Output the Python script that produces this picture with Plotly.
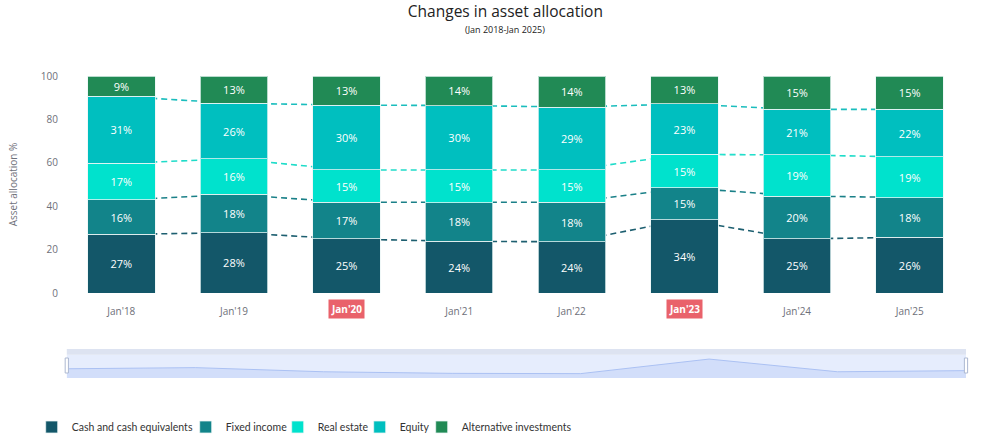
import numpy as np
import plotly.graph_objects as go

categories = ["Jan'18", "Jan'19", "Jan'20", "Jan'21", "Jan'22", "Jan'23", "Jan'24", "Jan'25"]
highlighted = ["Jan'20", "Jan'23"]

series_names = ["Cash and cash equivalents", "Fixed income", "Real estate", "Equity", "Alternative investments"]
cash = [27.0, 27.8, 24.9, 23.8, 23.6, 33.8, 24.9, 25.7]
fixed_income = [15.9, 17.6, 16.9, 17.9, 18.2, 14.7, 19.8, 18.3]
real_estate = [16.9, 16.4, 14.9, 15.0, 14.9, 15.4, 18.9, 18.7]
equity = [30.8, 25.6, 29.9, 29.7, 29.0, 23.2, 21.0, 21.9]
alternative = [9.4, 12.6, 13.4, 13.6, 14.3, 12.9, 15.4, 15.4]

series_values = [cash, fixed_income, real_estate, equity, alternative]
colors = ["#135769", "#12848a", "#00e2cd", "#00bfbf", "#218a55"]
line_colors = ["#1d5f70", "#1a8088", "#1fdcc9", "#1abdbd"]

FONT = "Open Sans, Noto Sans, sans-serif"
LEGEND_FONT = "Lato, Open Sans, sans-serif"

# legend text start positions (pixels) for each entry
legend_text_x = [72, 226, 318, 400, 462]

fig = go.Figure()

# connecting dashed lines (drawn beneath the bars, on the base axes)
cum = np.cumsum(np.array(series_values), axis=0)
for i in range(4):
    fig.add_trace(go.Scatter(
        x=categories, y=cum[i], mode="lines", xaxis="x", yaxis="y",
        line=dict(color=line_colors[i], width=1.6, dash="6px,4px"),
        showlegend=False, hoverinfo="skip",
    ))

# stacked bars on overlay axes (drawn above the lines)
legend_ids = ["legend"] + ["legend%d" % (k + 1) for k in range(1, len(series_names))]
for name, vals, col, lid in zip(series_names, series_values, colors, legend_ids):
    fig.add_trace(go.Bar(
        x=categories, y=vals, name=name, xaxis="x2", yaxis="y2", legend=lid,
        marker=dict(color=col, line=dict(color="rgba(235,245,245,0.75)", width=1)),
        texttemplate="%{y:.0f}%", textposition="inside", insidetextanchor="middle",
        textangle=0, textfont=dict(color="white", size=11, family=FONT),
        constraintext="none",
    ))

# data zoom shadow
idx = list(range(len(categories)))
span = max(cash) - min(cash)
fig.add_trace(go.Scatter(
    x=idx, y=cash, xaxis="x3", yaxis="y3", mode="lines", fill="tozeroy",
    fillcolor="#d2defa", line=dict(color="#abc1f3", width=1),
    showlegend=False, hoverinfo="skip",
))

ticktext = ["" if c in highlighted else c for c in categories]

H = 439
top, bot = 76, 25
ph = H - top - bot
L, R = 65, 23
pw = 989 - L - R

def py(pix):
    return (H - bot - pix) / ph

fig.update_layout(
    width=989, height=439,
    margin=dict(l=L, r=R, t=top, b=bot, autoexpand=False),
    paper_bgcolor="white", plot_bgcolor="white",
    font=dict(family=FONT, color="#6e7079", size=10),
    barmode="stack", bargap=0.4,
    title=dict(text="Changes in asset allocation", x=0.511, xanchor="center",
               y=1 - 12 / H, yanchor="middle",
               font=dict(size=15.5, color="#222222", family=FONT)),
    xaxis=dict(domain=[0, 1], type="category", categoryorder="array", categoryarray=categories,
               range=[-0.5, 7.5], tickvals=categories, ticktext=ticktext,
               showgrid=False, showline=False, zeroline=False, ticks="",
               ticklabelstandoff=11, tickfont=dict(size=10, color="#6e7079"),
               anchor="y", fixedrange=True, automargin=False),
    yaxis=dict(domain=[py(293), 1], range=[0, 100], dtick=20, showgrid=False,
               showline=False, zeroline=False, ticks="", ticklabelstandoff=6,
               tickfont=dict(size=10, color="#6e7079"),
               title=dict(text="Asset allocation %", standoff=21,
                          font=dict(size=10, color="#6e7079")),
               anchor="x", fixedrange=True, automargin=False),
    xaxis2=dict(overlaying="x", type="category", categoryorder="array", categoryarray=categories,
                range=[-0.5, 7.5], visible=False, anchor="y2"),
    yaxis2=dict(overlaying="y", range=[0, 100], visible=False, anchor="x2"),
    xaxis3=dict(domain=[0.002, 1.0], range=[0, 7], visible=False, anchor="y3"),
    yaxis3=dict(domain=[py(378), py(354.7)],
                range=[min(cash) - 0.3 * span, max(cash) + 0.3 * span],
                visible=False, anchor="x3"),
    showlegend=True,
)

for lid, tx in zip(legend_ids, legend_text_x):
    fig.update_layout({lid: dict(
        orientation="h", x=(tx - 40.3 - L) / pw, xanchor="left", y=py(427), yanchor="middle",
        font=dict(size=10.5, color="#333333", family=LEGEND_FONT),
        itemwidth=30, bgcolor="rgba(0,0,0,0)")})

shapes = [
    dict(type="rect", xref="x3 domain", yref="y3 domain", x0=0, x1=1, y0=0, y1=1,
         fillcolor="#e6edfd", line=dict(width=0), layer="below"),
    dict(type="rect", xref="x3 domain", yref="paper", x0=0, x1=1, y0=py(354.7), y1=py(349),
         fillcolor="#dde3f1", line=dict(width=0), layer="below"),
]
for hx in (0, 1):
    shapes.append(dict(type="rect", xref="x3 domain", yref="paper",
                       x0=hx - 0.0018, x1=hx + 0.0018, y0=py(373), y1=py(358),
                       fillcolor="white", line=dict(color="#acb8d1", width=1), layer="above"))
fig.update_layout(shapes=shapes)

annotations = [
    dict(text="(Jan 2018-Jan 2025)", xref="paper", yref="paper", x=(505 - 65) / 901,
         y=py(30), xanchor="center", yanchor="middle", showarrow=False,
         font=dict(size=9, color="#222222", family=FONT)),
]
for c in highlighted:
    annotations.append(dict(text="<b>" + c + "</b>", xref="x", yref="y domain", x=c,
                            y=-(309 - 293) / 217, xanchor="center", yanchor="middle",
                            showarrow=False, bgcolor="#e9626b", borderpad=2,
                            font=dict(size=10, color="white", family=FONT)))
fig.update_layout(annotations=annotations)

fig.write_html("out.html", config={"displayModeBar": False},
               post_script="document.body.style.margin='0';document.body.style.overflow='hidden';")
